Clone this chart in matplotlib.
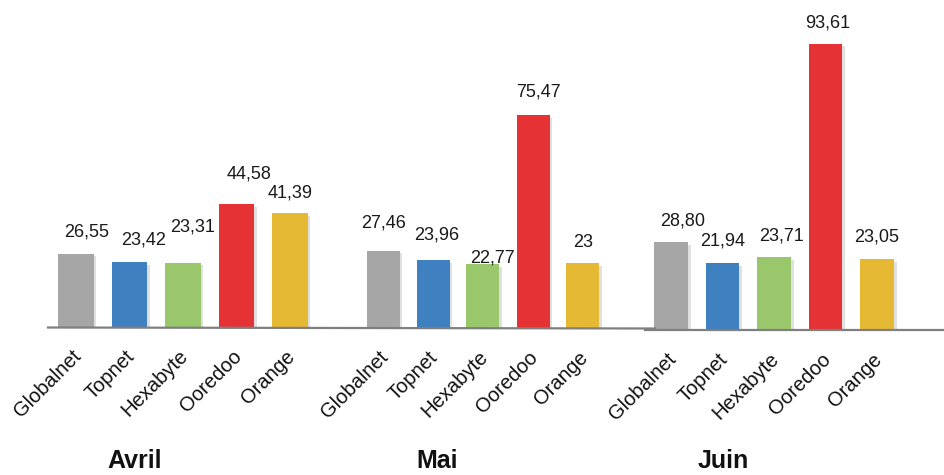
import numpy as np
import matplotlib.pyplot as plt
from matplotlib import patheffects as pe
from matplotlib.lines import Line2D

plt.rcParams['font.family'] = ['Liberation Sans', 'DejaVu Sans']

operators = ["Globalnet", "Topnet", "Hexabyte", "Ooredoo", "Orange"]
months = ["Avril", "Mai", "Juin"]
avril = [26.55, 23.42, 23.31, 44.58, 41.39]
mai = [27.46, 23.96, 22.77, 75.47, 23.00]
juin = [28.80, 21.94, 23.71, 93.61, 23.05]
value_labels = [
    ["26,55", "23,42", "23,31", "44,58", "41,39"],
    ["27,46", "23,96", "22,77", "75,47", "23"],
    ["28,80", "21,94", "23,71", "93,61", "23,05"],
]
colors = ["#A6A6A6", "#3F80C0", "#9BC76C", "#E53235", "#E6B935"]

W, H = 945, 475
fig = plt.figure(figsize=(W / 100, H / 100), dpi=100)
fig.patch.set_facecolor("white")

# layout of the three small charts (pixels): first bar centre, bar spacing, baseline y, px per unit
layout = [(76, 53.5, 327, 2.76), (383, 50.0, 328, 2.82), (671, 51.5, 330, 3.06)]
# label nudges in pixels (dx, dy above bar top)
label_off = [
    [(11, 22), (14, 22), (10, 36), (13, 30), (0, 20)],
    [(1, 28), (4, 25), (9, 6), (5, 23), (0, 21)],
    [(12, 21), (0, 22), (8, 21), (2, 21), (0, 22)],
]
month_x = [135, 437, 723]

shadow = [pe.SimplePatchShadow(offset=(2, -2), shadow_rgbFace="#000000", alpha=0.12), pe.Normal()]

for g, vals in enumerate([avril, mai, juin]):
    c0, sp, base, scale = layout[g]
    left = c0 - 0.8 * sp
    right = c0 + 4.8 * sp
    top_px = 20
    ax = fig.add_axes([left / W, (H - base) / H, (right - left) / W, (base - top_px) / H])
    ax.set_xlim(-0.8, 4.8)
    ax.set_ylim(0, (base - top_px) / scale)
    ax.axis("off")
    x = np.arange(len(operators))
    bars = ax.bar(x, vals, width=0.66, color=colors, zorder=2)
    for b in bars:
        b.set_path_effects(shadow)
    for i, v in enumerate(vals):
        dx, dy = label_off[g][i]
        ax.annotate(value_labels[g][i], (x[i], v), xytext=(dx * 0.72, dy * 0.72),
                    textcoords="offset points", ha="center", va="center",
                    fontsize=13, color="#1a1a1a")
        ax.annotate(operators[i], (x[i], 0), xytext=(-3.5, -14), textcoords="offset points",
                    ha="right", va="top", rotation=45, rotation_mode="anchor",
                    fontsize=14.5, color="#111111")
    fig.text(month_x[g] / W, 1 - 449 / H, months[g], ha="center", va="top",
             fontsize=18, fontweight="bold", color="#111111")

# baselines
fig.add_artist(Line2D([48 / W, 655 / W], [1 - 327.5 / H, 1 - 328.5 / H], color="#7f7f7f", lw=1.6))
fig.add_artist(Line2D([645 / W, 1.0], [1 - 330 / H, 1 - 330 / H], color="#7f7f7f", lw=1.6))

fig.savefig("out.png", dpi=100)
